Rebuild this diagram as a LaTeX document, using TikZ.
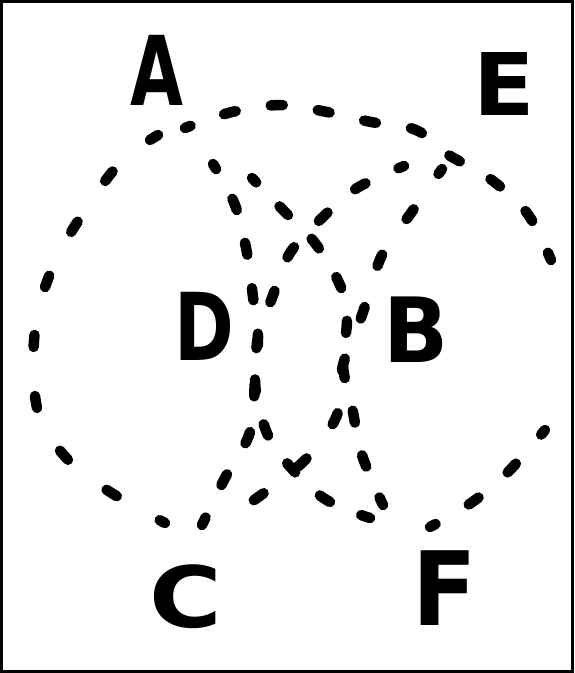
\documentclass[tikz,border=0pt]{standalone}
\usepackage{fontspec}
\setmainfont{DejaVu Sans}
\tikzset{
  dsh/.style={line width=10.5pt, line cap=round, dash pattern=on 12pt off #1, dash phase=6pt},
  lbl/.style={inner sep=0pt, font=\fontsize{90}{90}\selectfont\bfseries},
  frame/.style={line width=3pt},
}
\begin{document}
\begin{tikzpicture}[x=1pt,y=-1pt]
\useasboundingbox (0,0) rectangle (574,673);
\draw[frame] (1.5,1.5) rectangle (572.5,671.5);

% labels
\node[lbl] (A) at (157,70)  {\scalebox{0.76}[1.07]{A}};
\node[lbl] (E) at (504,84)  {\scalebox{1.0}[0.96]{E}};
\node[lbl] (D) at (204,326) {\scalebox{0.8}[1.04]{D}};
\node[lbl] (B) at (416,330) {\scalebox{0.95}[1.0]{B}};
\node[lbl] (C) at (186,597) {\scalebox{1.1}[0.94]{C}};
\node[lbl] (F) at (445,588) {\scalebox{1.05}[1.14]{F}};

% outer curve: left part (C side up to A)
\draw[dsh=49.2pt] plot[smooth, tension=0.6] coordinates
  {(165,523) (110,492) (70,462) (38,412) (35,330) (55,262) (92,200) (123,160) (158,135)};
% outer curve: top part (A over to E and down the right)
\draw[dsh=35.5pt] plot[smooth, tension=0.6] coordinates
  {(185,128) (232,112) (282,105) (327,112) (371,122) (416,130) (447,154) (489,178) (527,213) (551,260)};
% outer curve: lower right part (towards F)
\draw[dsh=38.5pt] plot[smooth, tension=0.6] coordinates
  {(545,430) (507,473) (471,503) (430,527)};

% inner curves from A towards F
\draw[dsh=33.9pt] plot[smooth, tension=0.6] coordinates
  {(213,164) (235,205) (247,253) (253,297) (258,337) (255,380) (261,416) (278,452) (322,497) (370,518)};
\draw[dsh=33.6pt] plot[smooth, tension=0.6] coordinates
  {(252,178) (285,212) (315,243) (340,285) (347,318) (343,365) (352,407) (362,455) (383,505)};

% inner curves from E towards C
\draw[dsh=36.2pt] plot[smooth, tension=0.6] coordinates
  {(404,166) (357,188) (325,215) (290,253) (272,298) (258,337) (255,380) (250,432) (225,478) (202,525)};
\draw[dsh=43.3pt] plot[smooth, tension=0.6] coordinates
  {(442,169) (411,213) (382,255) (362,315) (343,365) (337,415) (304,461) (247,505)};
\end{tikzpicture}
\end{document}
